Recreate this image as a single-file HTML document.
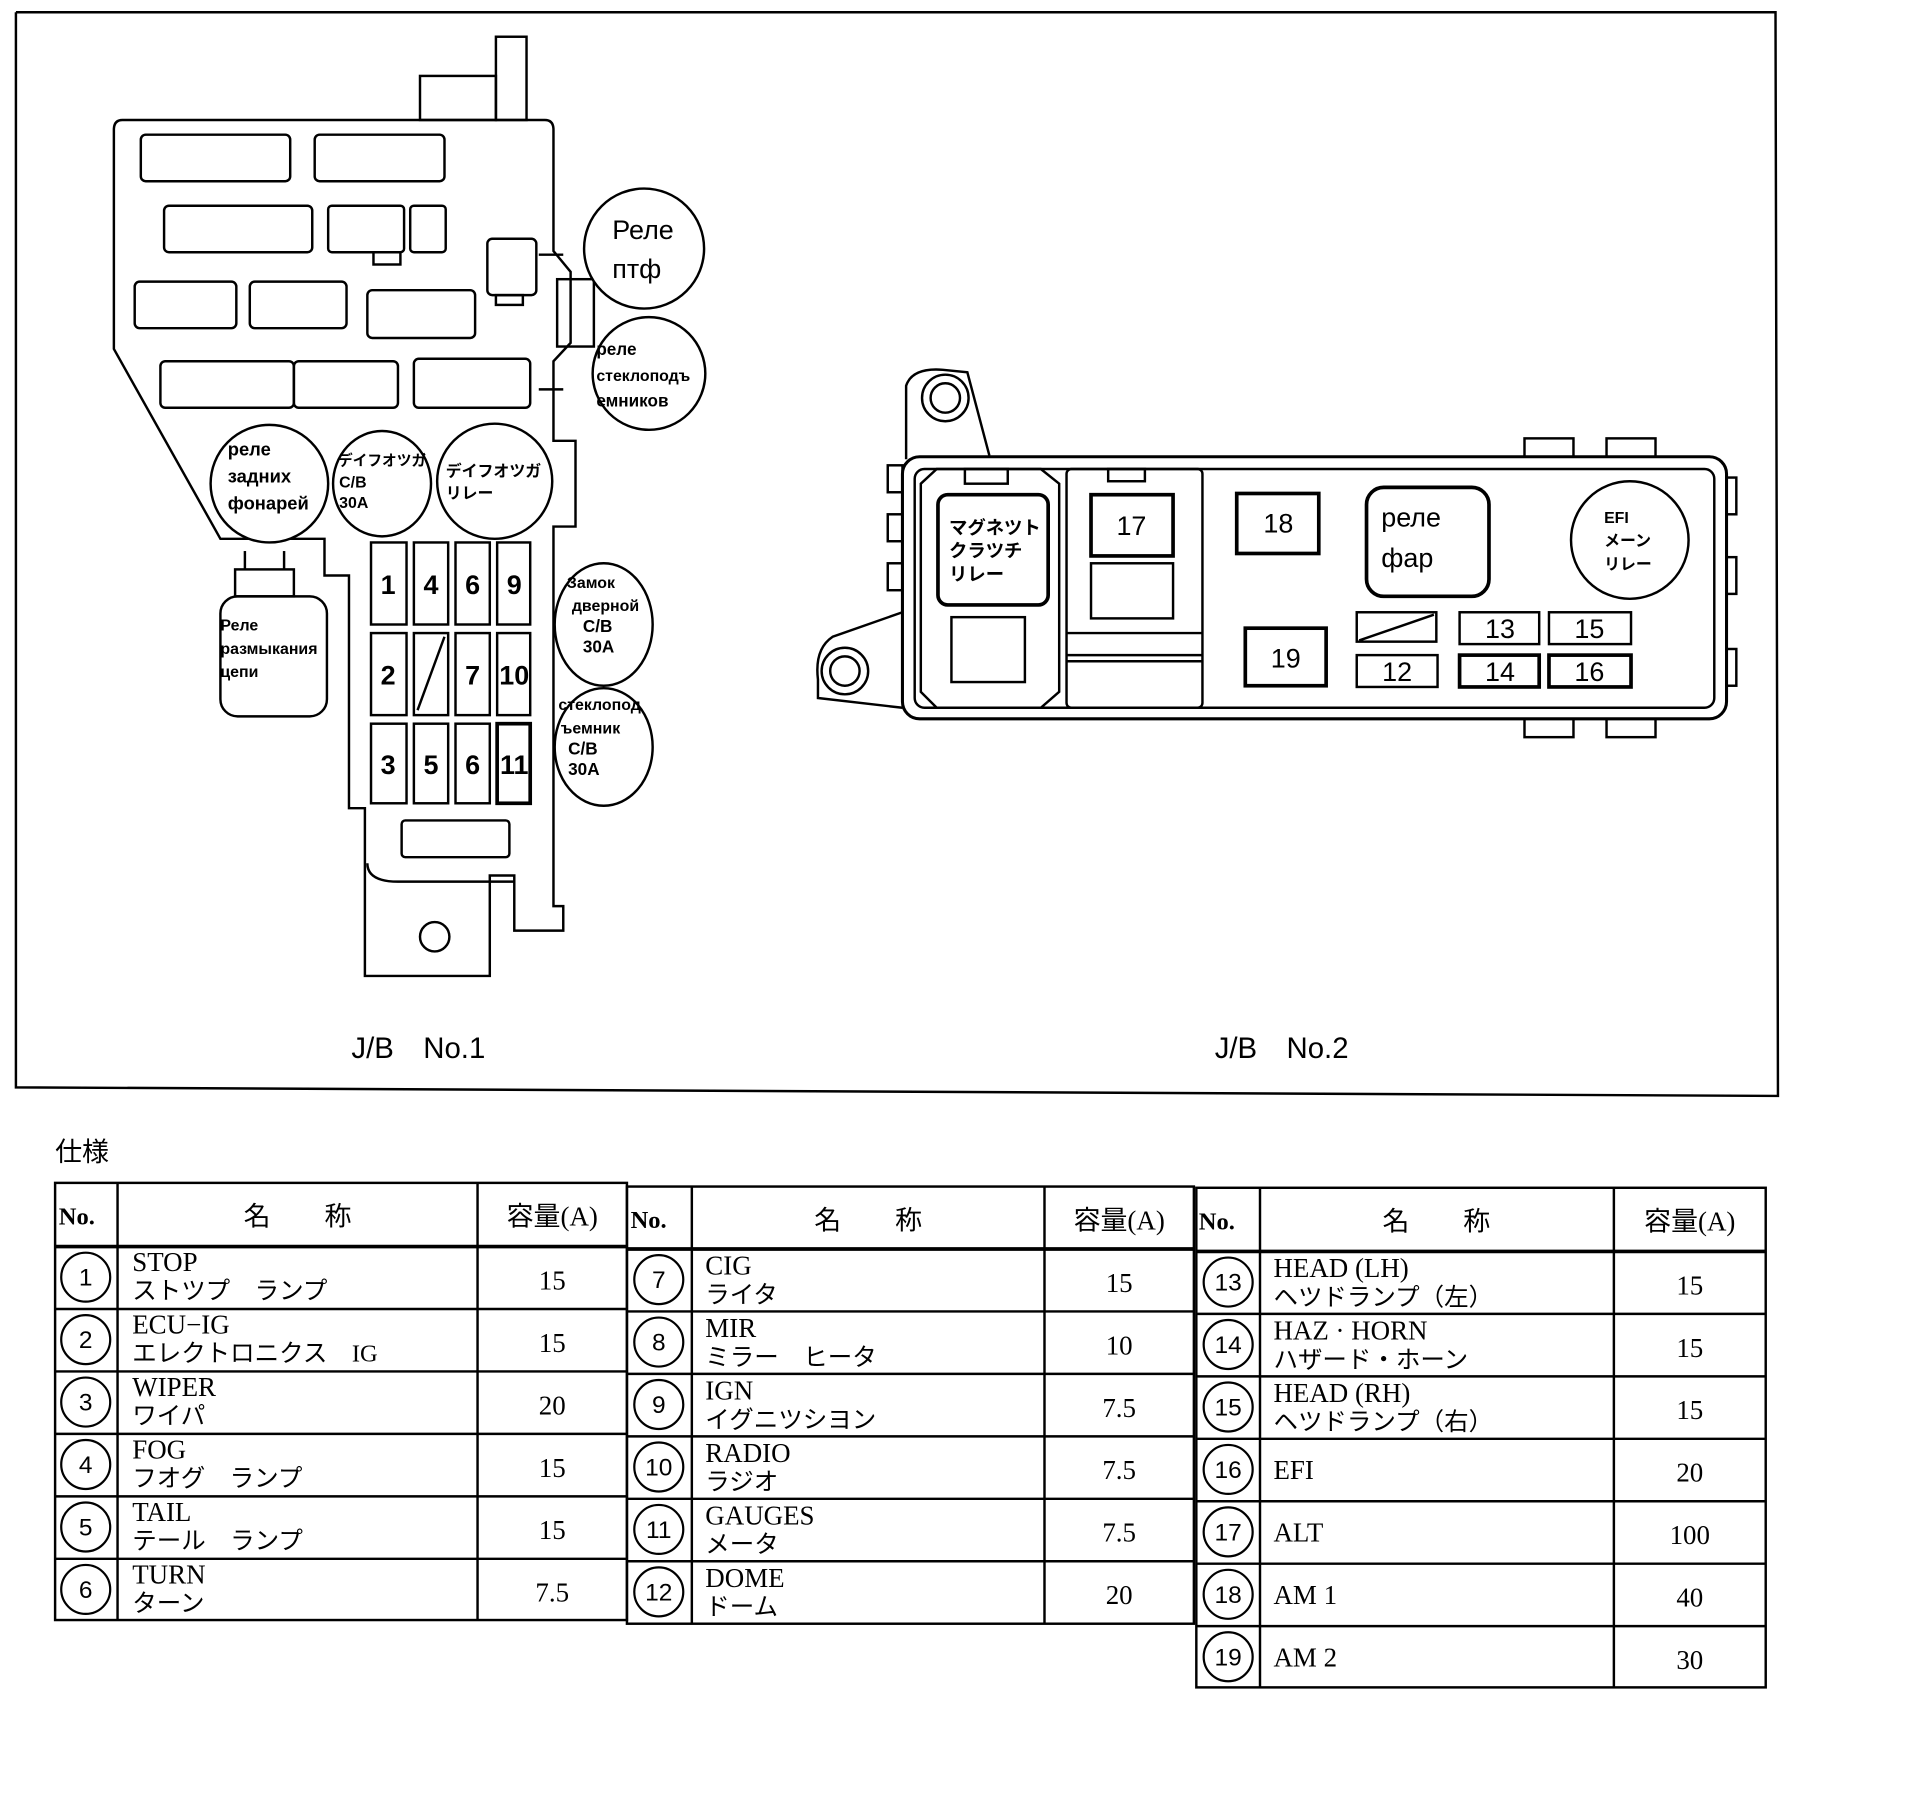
<!DOCTYPE html>
<html><head><meta charset="utf-8"><style>
html,body{margin:0;padding:0;background:#fff;}
svg{display:block;}
.s{font-family:"Liberation Sans","Noto Sans CJK JP",sans-serif;font-weight:bold;fill:#000;}
.t{font-family:"Liberation Serif","Noto Serif CJK SC",serif;fill:#000;}
.j{font-family:"Liberation Serif","Noto Sans CJK JP",serif;fill:#000;}
</style></head><body>
<svg width="1920" height="1802" viewBox="0 0 1568 1471.6" preserveAspectRatio="none" xmlns="http://www.w3.org/2000/svg">
<rect width="1568" height="1472" fill="#fff"/>
<g fill="none" stroke="#000" stroke-width="2">
<polyline points="13,10 1450,10 1452,895 13,888 13,10"/>
<rect x="405" y="30" width="25" height="68"/>
<rect x="343" y="62" width="62" height="36"/>
<path d="M100,98 L445,98 Q452,98 452,106 L452,205 L466,222 L466,280 L452,295 L452,360 L470,360 L470,430 L452,430 L452,740 L460,740 L460,760 L420,760 L420,715 L400,715 L400,797 L298,797 L298,660 L285,660 L285,470 L265,470 L265,440 L180,440 L93,285 L93,106 Q93,98 100,98 Z"/>
<circle cx="355" cy="765" r="12"/>
<path d="M300,705 Q300,720 325,720 L420,720"/>
<rect x="328" y="670" width="88" height="30" rx="3"/>
<rect x="115" y="110" width="122" height="38" rx="4"/>
<rect x="257" y="110" width="106" height="38" rx="4"/>
<rect x="134" y="168" width="121" height="38" rx="4"/>
<rect x="268" y="168" width="62" height="38" rx="3"/>
<rect x="335" y="168" width="29" height="38" rx="3"/>
<rect x="305" y="206" width="22" height="10"/>
<rect x="110" y="230" width="83" height="38" rx="4"/>
<rect x="204" y="230" width="79" height="38" rx="4"/>
<rect x="300" y="237" width="88" height="39" rx="4"/>
<rect x="131" y="295" width="109" height="38" rx="4"/>
<rect x="240" y="295" width="85" height="38" rx="4"/>
<rect x="338" y="293" width="95" height="40" rx="4"/>
<rect x="398" y="195" width="40" height="46" rx="4"/>
<rect x="405" y="241" width="22" height="8"/>
<rect x="455" y="228" width="30" height="55"/>
<line x1="440" y1="208" x2="460" y2="208"/><line x1="440" y1="318" x2="460" y2="318"/>
<circle cx="526" cy="203" r="49" fill="#fff"/>
<circle cx="530" cy="305" r="46" fill="#fff"/>
<circle cx="220" cy="395" r="48" fill="#fff"/>
<ellipse cx="312" cy="395" rx="40" ry="43" fill="#fff"/>
<circle cx="404" cy="393" r="47" fill="#fff"/>
<ellipse cx="493" cy="510" rx="40" ry="50" fill="#fff"/>
<ellipse cx="493" cy="610" rx="40" ry="48" fill="#fff"/>
<rect x="180" y="487" width="87" height="98" rx="14" fill="#fff"/>
<rect x="192" y="465" width="48" height="22"/>
<line x1="200" y1="450" x2="200" y2="465"/><line x1="232" y1="450" x2="232" y2="465"/>
<rect x="303" y="443" width="29" height="67"/><rect x="338" y="443" width="28" height="67"/><rect x="372" y="443" width="28" height="67"/><rect x="406" y="443" width="27" height="67"/>
<rect x="303" y="517" width="29" height="67"/><rect x="338" y="517" width="28" height="67"/><rect x="372" y="517" width="28" height="67"/><rect x="406" y="517" width="27" height="67"/>
<rect x="303" y="591" width="29" height="65"/><rect x="338" y="591" width="28" height="65"/><rect x="372" y="591" width="28" height="65"/><rect x="406" y="591" width="27" height="65" stroke-width="3"/>
<line x1="341" y1="580" x2="363" y2="520"/>
<path d="M740,375 L740,315 Q745,300 770,302 L790,304 L808,372"/>
<circle cx="772" cy="325" r="19"/><circle cx="772" cy="325" r="12"/>
<path d="M737,500 L680,520 Q665,530 668,555 L668,570 L737,578"/>
<circle cx="690" cy="548" r="19"/><circle cx="690" cy="548" r="12"/>
<rect x="737" y="373" width="673" height="214" rx="14" stroke-width="2.5"/>
<rect x="747" y="383" width="653" height="195" rx="8"/>
<rect x="725" y="380" width="12" height="22"/><rect x="725" y="420" width="12" height="22"/><rect x="725" y="460" width="12" height="22"/>
<rect x="1410" y="390" width="8" height="30"/><rect x="1410" y="455" width="8" height="30"/><rect x="1410" y="530" width="8" height="30"/>
<rect x="1245" y="358" width="40" height="15"/><rect x="1312" y="358" width="40" height="15"/>
<rect x="1245" y="587" width="40" height="15"/><rect x="1312" y="587" width="40" height="15"/>
<path d="M752,395 L765,383 L850,383 L865,395 L865,565 L850,578 L765,578 L752,565 Z"/>
<rect x="788" y="383" width="35" height="12"/>
<rect x="766" y="404" width="90" height="90" rx="8" stroke-width="3"/>
<rect x="777" y="504" width="60" height="53"/>
<rect x="871" y="383" width="111" height="195" rx="4"/>
<rect x="905" y="383" width="30" height="10"/>
<line x1="871" y1="517" x2="982" y2="517"/><line x1="871" y1="535" x2="982" y2="535"/><line x1="871" y1="540" x2="982" y2="540"/>
<rect x="891" y="404" width="67" height="50" stroke-width="3"/>
<rect x="891" y="460" width="67" height="45"/>
<rect x="1010" y="403" width="67" height="49" stroke-width="3"/>
<rect x="1116" y="398" width="100" height="89" rx="14" stroke-width="3"/>
<circle cx="1331" cy="441" r="48"/>
<rect x="1017" y="513" width="66" height="47" stroke-width="3"/>
<rect x="1108" y="500" width="65" height="24"/><line x1="1110" y1="523" x2="1171" y2="502"/>
<rect x="1108" y="535" width="66" height="26"/>
<rect x="1192" y="500" width="65" height="26"/><rect x="1192" y="535" width="65" height="26" stroke-width="3"/>
<rect x="1265" y="500" width="67" height="26"/><rect x="1265" y="535" width="67" height="26" stroke-width="3"/>
</g>
<g class="s">
<text x="500" y="195" font-size="22" font-weight="normal">Реле</text>
<text x="500" y="227" font-size="22" font-weight="normal">птф</text>
<text x="487" y="290" font-size="14">реле</text>
<text x="487" y="311" font-size="13">стеклоподъ</text>
<text x="487" y="332" font-size="14">емников</text>
<text x="186" y="372" font-size="15">реле</text>
<text x="186" y="394" font-size="15">задних</text>
<text x="186" y="416" font-size="15">фонарей</text>
<text x="276" y="380" font-size="12">デイフオツガ</text>
<text x="277" y="398" font-size="13">C/B</text>
<text x="277" y="415" font-size="13">30A</text>
<text x="364" y="389" font-size="13">デイフオツガ</text>
<text x="364" y="407" font-size="13">リレー</text>
<text x="463" y="480" font-size="13">Замок</text>
<text x="467" y="499" font-size="13">дверной</text>
<text x="476" y="516" font-size="14">C/B</text>
<text x="476" y="533" font-size="14">30A</text>
<text x="456" y="580" font-size="13">стеклопод</text>
<text x="458" y="599" font-size="13">ъемник</text>
<text x="464" y="616" font-size="14">C/B</text>
<text x="464" y="633" font-size="14">30A</text>
<text x="180" y="515" font-size="13">Реле</text>
<text x="180" y="534" font-size="13">размыкания</text>
<text x="180" y="553" font-size="13">цепи</text>
<g font-size="22" text-anchor="middle">
<text x="317" y="485">1</text><text x="352" y="485">4</text><text x="386" y="485">6</text><text x="420" y="485">9</text>
<text x="317" y="559">2</text><text x="386" y="559">7</text><text x="420" y="559">10</text>
<text x="317" y="632">3</text><text x="352" y="632">5</text><text x="386" y="632">6</text><text x="420" y="632">11</text>
</g>
<text x="775" y="436" font-size="15">マグネツト</text>
<text x="775" y="455" font-size="15">クラツチ</text>
<text x="775" y="474" font-size="15">リレー</text>
<g font-size="22" font-weight="normal" text-anchor="middle">
<text x="924" y="437">17</text><text x="1044" y="435">18</text><text x="1050" y="545">19</text>
<text x="1141" y="556">12</text><text x="1225" y="521">13</text><text x="1225" y="556">14</text><text x="1298" y="521">15</text><text x="1298" y="556">16</text>
</g>
<text x="1128" y="430" font-size="22" font-weight="normal">реле</text>
<text x="1128" y="463" font-size="22" font-weight="normal">фар</text>
<text x="1310" y="427" font-size="13">EFI</text>
<text x="1310" y="446" font-size="13">メーン</text>
<text x="1310" y="465" font-size="13">リレー</text>
</g>
<g font-family="Liberation Sans,sans-serif" font-size="24" fill="#000">
<text x="287" y="864">J/B　No.1</text>
<text x="992" y="864">J/B　No.2</text>
</g>
<text x="45" y="948" class="j" font-size="22">仕様</text>
<g fill="none" stroke="#000" stroke-width="2">
<rect x="45" y="966" width="467" height="357"/>
<line x1="96" y1="966" x2="96" y2="1323"/><line x1="390" y1="966" x2="390" y2="1323"/>
<line x1="45" y1="1018" x2="512" y2="1018" stroke-width="3"/>
<line x1="45" y1="1069" x2="512" y2="1069"/><line x1="45" y1="1120" x2="512" y2="1120"/><line x1="45" y1="1171" x2="512" y2="1171"/><line x1="45" y1="1222" x2="512" y2="1222"/><line x1="45" y1="1273" x2="512" y2="1273"/>
<rect x="512" y="969" width="463" height="357"/>
<line x1="565" y1="969" x2="565" y2="1326"/><line x1="853" y1="969" x2="853" y2="1326"/>
<line x1="512" y1="1020" x2="975" y2="1020" stroke-width="3"/>
<line x1="512" y1="1071" x2="975" y2="1071"/><line x1="512" y1="1122" x2="975" y2="1122"/><line x1="512" y1="1173" x2="975" y2="1173"/><line x1="512" y1="1224" x2="975" y2="1224"/><line x1="512" y1="1275" x2="975" y2="1275"/>
<rect x="977" y="970" width="465" height="408"/>
<line x1="1029" y1="970" x2="1029" y2="1378"/><line x1="1318" y1="970" x2="1318" y2="1378"/>
<line x1="977" y1="1022" x2="1442" y2="1022" stroke-width="3"/>
<line x1="977" y1="1073" x2="1442" y2="1073"/><line x1="977" y1="1124" x2="1442" y2="1124"/><line x1="977" y1="1175" x2="1442" y2="1175"/><line x1="977" y1="1226" x2="1442" y2="1226"/><line x1="977" y1="1277" x2="1442" y2="1277"/><line x1="977" y1="1328" x2="1442" y2="1328"/>
<g stroke-width="1.8">
<circle cx="70" cy="1043" r="20"/><circle cx="70" cy="1094" r="20"/><circle cx="70" cy="1145" r="20"/><circle cx="70" cy="1196" r="20"/><circle cx="70" cy="1247" r="20"/><circle cx="70" cy="1298" r="20"/>
<circle cx="538" cy="1045" r="20"/><circle cx="538" cy="1096" r="20"/><circle cx="538" cy="1147" r="20"/><circle cx="538" cy="1198" r="20"/><circle cx="538" cy="1249" r="20"/><circle cx="538" cy="1300" r="20"/>
<circle cx="1003" cy="1047" r="20"/><circle cx="1003" cy="1098" r="20"/><circle cx="1003" cy="1149" r="20"/><circle cx="1003" cy="1200" r="20"/><circle cx="1003" cy="1251" r="20"/><circle cx="1003" cy="1302" r="20"/><circle cx="1003" cy="1353" r="20"/>
</g></g>
<g class="t" font-size="22">
<text x="48" y="1000" font-weight="bold" font-size="20">No.</text>
<text x="515" y="1003" font-weight="bold" font-size="20">No.</text>
<text x="979" y="1004" font-weight="bold" font-size="20">No.</text>
<text x="243" y="1001" text-anchor="middle" class="j">名　　称</text>
<text x="709" y="1004" text-anchor="middle" class="j">名　　称</text>
<text x="1173" y="1005" text-anchor="middle" class="j">名　　称</text>
<text x="451" y="1001" text-anchor="middle" class="j">容量(A)</text>
<text x="914" y="1004" text-anchor="middle" class="j">容量(A)</text>
<text x="1380" y="1005" text-anchor="middle" class="j">容量(A)</text>
<g font-size="20" font-family="Liberation Sans,sans-serif" text-anchor="middle">
<text x="70" y="1050">1</text><text x="70" y="1101">2</text><text x="70" y="1152">3</text><text x="70" y="1203">4</text><text x="70" y="1254">5</text><text x="70" y="1305">6</text>
<text x="538" y="1052">7</text><text x="538" y="1103">8</text><text x="538" y="1154">9</text><text x="538" y="1205">10</text><text x="538" y="1256">11</text><text x="538" y="1307">12</text>
<text x="1003" y="1054">13</text><text x="1003" y="1105">14</text><text x="1003" y="1156">15</text><text x="1003" y="1207">16</text><text x="1003" y="1258">17</text><text x="1003" y="1309">18</text><text x="1003" y="1360">19</text>
</g>
<g>
<text x="108" y="1038">STOP</text><text x="108" y="1061" class="j" font-size="20">ストツプ　ランプ</text>
<text x="108" y="1089">ECU−IG</text><text x="108" y="1112" class="j" font-size="20">エレクトロニクス　IG</text>
<text x="108" y="1140">WIPER</text><text x="108" y="1163" class="j" font-size="20">ワイパ</text>
<text x="108" y="1191">FOG</text><text x="108" y="1214" class="j" font-size="20">フオグ　ランプ</text>
<text x="108" y="1242">TAIL</text><text x="108" y="1265" class="j" font-size="20">テール　ランプ</text>
<text x="108" y="1293">TURN</text><text x="108" y="1316" class="j" font-size="20">ターン</text>
<text x="576" y="1041">CIG</text><text x="576" y="1064" class="j" font-size="20">ライタ</text>
<text x="576" y="1092">MIR</text><text x="576" y="1115" class="j" font-size="20">ミラー　ヒータ</text>
<text x="576" y="1143">IGN</text><text x="576" y="1166" class="j" font-size="20">イグニツシヨン</text>
<text x="576" y="1194">RADIO</text><text x="576" y="1217" class="j" font-size="20">ラジオ</text>
<text x="576" y="1245">GAUGES</text><text x="576" y="1268" class="j" font-size="20">メータ</text>
<text x="576" y="1296">DOME</text><text x="576" y="1319" class="j" font-size="20">ドーム</text>
<text x="1040" y="1043">HEAD (LH)</text><text x="1040" y="1066" class="j" font-size="20">ヘツドランプ（左）</text>
<text x="1040" y="1094">HAZ · HORN</text><text x="1040" y="1117" class="j" font-size="20">ハザード・ホーン</text>
<text x="1040" y="1145">HEAD (RH)</text><text x="1040" y="1168" class="j" font-size="20">ヘツドランプ（右）</text>
<text x="1040" y="1208">EFI</text>
<text x="1040" y="1259">ALT</text>
<text x="1040" y="1310">AM 1</text>
<text x="1040" y="1361">AM 2</text>
</g>
<g text-anchor="middle">
<text x="451" y="1053">15</text><text x="451" y="1104">15</text><text x="451" y="1155">20</text><text x="451" y="1206">15</text><text x="451" y="1257">15</text><text x="451" y="1308">7.5</text>
<text x="914" y="1055">15</text><text x="914" y="1106">10</text><text x="914" y="1157">7.5</text><text x="914" y="1208">7.5</text><text x="914" y="1259">7.5</text><text x="914" y="1310">20</text>
<text x="1380" y="1057">15</text><text x="1380" y="1108">15</text><text x="1380" y="1159">15</text><text x="1380" y="1210">20</text><text x="1380" y="1261">100</text><text x="1380" y="1312">40</text><text x="1380" y="1363">30</text>
</g>
</g>
</svg>
</body></html>
